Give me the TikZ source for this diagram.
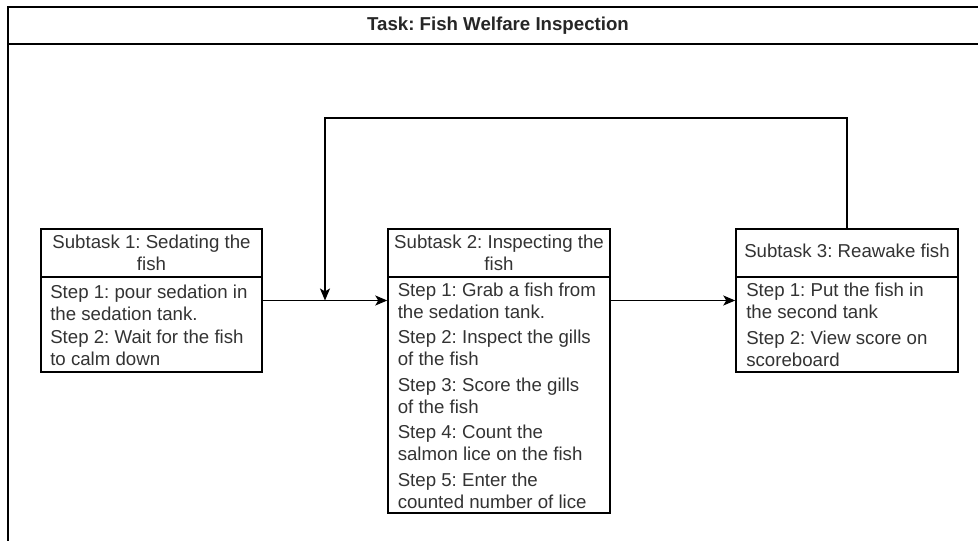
\documentclass[tikz,border=0pt]{standalone}
\usepackage{fontspec}
\setmainfont{Liberation Sans}
\usetikzlibrary{arrows.meta,fit}
\frenchspacing
\newcommand{\twoline}[2]{\strut #1\\#2\strut}
\begin{document}
\begin{tikzpicture}[x=0.75pt,y=-0.75pt,
  boxframe/.style={draw=black, line width=1.1pt, inner sep=0pt},
  txt/.style={font=\fontsize{14}{16.5}\selectfont, text=black!80, inner sep=0pt},
  hdr/.style={txt, align=center},
  item/.style={txt, align=left, anchor=west},
  sepline/.style={line width=1.1pt},
  conn/.style={line width=1.1pt, -{Stealth[length=9pt,width=7.5pt,inset=2.2pt]}}]
\useasboundingbox (0,0) rectangle (978,541);
\fill[white] (0,0) rectangle (978,541);
% outer task frame
\draw[line width=1.5pt] (978,7) -- (8,7) -- (8,541);
\draw[line width=1.5pt] (8,44) -- (978,44);
\node[txt, font=\fontsize{14}{16.5}\selectfont\bfseries, text=black!85] (title) at (498,25.5) {Task: Fish Welfare Inspection};

% Subtask 1
\node[boxframe, fit={(41,229)(262,372)}] (b1) {};
\draw[sepline] (41,277) -- (262,277);
\node[hdr] (h1) at (151.5,255) {\twoline{Subtask 1: Sedating the}{fish}};
\node[item] (s11) at (50,305.5) {\twoline{Step 1: pour sedation in}{the sedation tank.}};
\node[item] (s12) at (50,350) {\twoline{Step 2: Wait for the fish}{to calm down}};

% Subtask 2
\node[boxframe, fit={(388,229)(610,513)}] (b2) {};
\draw[sepline] (388,277) -- (610,277);
\node[hdr] (h2) at (499,255) {\twoline{Subtask 2: Inspecting the}{fish}};
\node[item] (s21) at (397.5,303.5) {\twoline{Step 1: Grab a fish from}{the sedation tank.}};
\node[item] (s22) at (397.5,350) {\twoline{Step 2: Inspect the gills}{of the fish}};
\node[item] (s23) at (397.5,398) {\twoline{Step 3: Score the gills}{of the fish}};
\node[item] (s24) at (397.5,445.5) {\twoline{Step 4: Count the}{salmon lice on the fish}};
\node[item] (s25) at (397.5,493) {\twoline{Step 5: Enter the}{counted number of lice}};

% Subtask 3
\node[boxframe, fit={(736,229)(958,372)}] (b3) {};
\draw[sepline] (736,277) -- (958,277);
\node[hdr] (h3) at (847,253.6) {\strut Subtask 3: Reawake fish\strut};
\node[item] (s31) at (746,303.5) {\twoline{Step 1: Put the fish in}{the second tank}};
\node[item] (s32) at (746,351) {\twoline{Step 2: View score on}{scoreboard}};

% connectors
\coordinate (loopy) at (0,118);
\coordinate (j) at (325,300.5);
\draw[conn] (b1.east) -- (b1.east -| b2.west);
\draw[conn] (b3.west -| b2.east) -- (b3.west);
\draw[conn] (b3.north) -- (b3.north |- loopy) -| (j);
\end{tikzpicture}
\end{document}
